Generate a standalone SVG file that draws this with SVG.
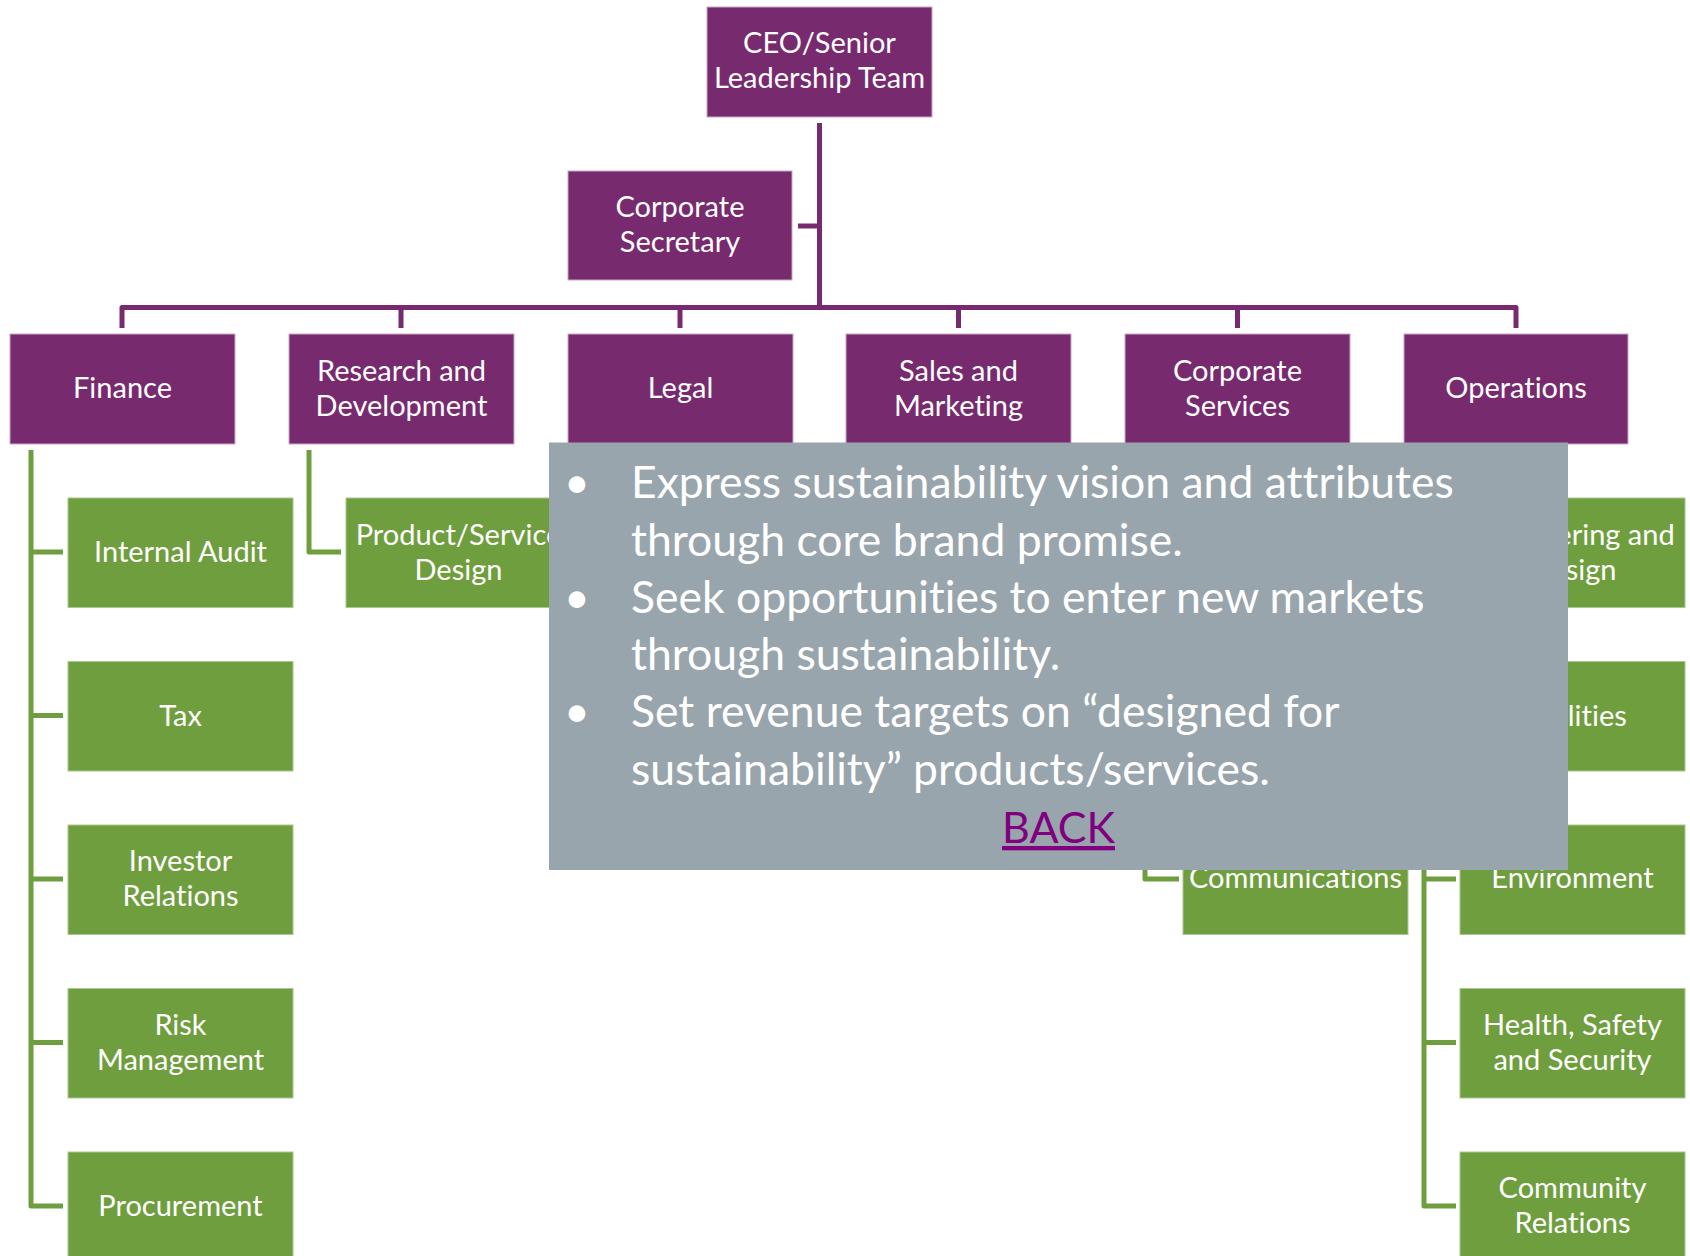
<svg xmlns="http://www.w3.org/2000/svg" width="1690" height="1256" viewBox="0 0 1690 1256">
<style>
text{font-family:Lato,"Liberation Sans",sans-serif;fill:#fff;text-anchor:middle;font-variant-ligatures:none;font-feature-settings:"liga" 0}
.t{font-size:29px}
.p{fill:#782A6F;stroke:#C9A8C4;stroke-width:1}
.g{fill:#6F9E3E;stroke:#A9C78E;stroke-width:1}
.pl{fill:none;stroke:#782A6F;stroke-width:5;stroke-linejoin:round}
.gl{fill:none;stroke:#6F9E3E;stroke-width:5;stroke-linejoin:round}
.o{font-size:44.5px;text-anchor:start}
</style>
<rect width="1690" height="1256" fill="#fff"/>
<g id="connectors">
<path class="pl" d="M819.5,123V307.5M798,226H819.5M122,328V307.5H1516V328M401,307.5V328M680,307.5V328M958.5,307.5V328M1237.5,307.5V328"/>
<path class="gl" d="M31,450V1206H63M31,552H63M31,715.5H63M31,879H63M31,1042.5H63"/>
<path class="gl" d="M309,450V552H341"/>
<path class="gl" d="M1145,450V879H1179"/>
<path class="gl" d="M1424,450V1206H1456M1424,552H1456M1424,715.5H1456M1424,879H1456M1424,1042.5H1456"/>
</g>
<g id="ceo"><rect class="p" x="707" y="7" width="225" height="110"/><text class="t" x="819.5" y="53">CEO/Senior</text><text class="t" x="819.5" y="88">Leadership Team</text></g>
<g id="corporate-secretary"><rect class="p" x="568" y="171" width="224" height="109"/><text class="t" x="680" y="217">Corporate</text><text class="t" x="680" y="252">Secretary</text></g>
<g id="finance"><rect class="p" x="10" y="334" width="225" height="110"/><text class="t" x="122.5" y="398">Finance</text></g>
<g id="research-development"><rect class="p" x="289" y="334" width="225" height="110"/><text class="t" x="401.5" y="381">Research and</text><text class="t" x="401.5" y="416">Development</text></g>
<g id="legal"><rect class="p" x="568" y="334" width="225" height="110"/><text class="t" x="680.5" y="398">Legal</text></g>
<g id="sales-marketing"><rect class="p" x="846" y="334" width="225" height="110"/><text class="t" x="958.5" y="381">Sales and</text><text class="t" x="958.5" y="416">Marketing</text></g>
<g id="corporate-services"><rect class="p" x="1125" y="334" width="225" height="110"/><text class="t" x="1237.5" y="381">Corporate</text><text class="t" x="1237.5" y="416">Services</text></g>
<g id="operations"><rect class="p" x="1404" y="334" width="224" height="110"/><text class="t" x="1516" y="398">Operations</text></g>
<g id="internal-audit"><rect class="g" x="68" y="498" width="225" height="109.5"/><text class="t" x="180.5" y="562">Internal Audit</text></g>
<g id="tax"><rect class="g" x="68" y="661.5" width="225" height="109.5"/><text class="t" x="180.5" y="725.5">Tax</text></g>
<g id="investor-relations"><rect class="g" x="68" y="825" width="225" height="109.5"/><text class="t" x="180.5" y="871">Investor</text><text class="t" x="180.5" y="906">Relations</text></g>
<g id="risk-management"><rect class="g" x="68" y="988.5" width="225" height="109.5"/><text class="t" x="180.5" y="1034.5">Risk</text><text class="t" x="180.5" y="1069.5">Management</text></g>
<g id="procurement"><rect class="g" x="68" y="1152" width="225" height="109.5"/><text class="t" x="180.5" y="1216">Procurement</text></g>
<g id="product-service-design"><rect class="g" x="346" y="498" width="225" height="109.5"/><text class="t" x="458.5" y="544.5">Product/Service</text><text class="t" x="458.5" y="579.5">Design</text></g>
<g id="communications"><rect class="g" x="1183" y="825" width="225" height="109.5"/><text class="t" x="1295.5" y="888">Communications</text></g>
<g id="engineering-design"><rect class="g" x="1460" y="498" width="225" height="109.5"/><text class="t" x="1572.5" y="544.5">Engineering and</text><text class="t" x="1572.5" y="579.5">Design</text></g>
<g id="facilities"><rect class="g" x="1460" y="661.5" width="225" height="109.5"/><text class="t" x="1572.5" y="725.5">Facilities</text></g>
<g id="environment"><rect class="g" x="1460" y="825" width="225" height="109.5"/><text class="t" x="1572.5" y="888">Environment</text></g>
<g id="health-safety-security"><rect class="g" x="1460" y="988.5" width="225" height="109.5"/><text class="t" x="1572.5" y="1034.5">Health, Safety</text><text class="t" x="1572.5" y="1069.5">and Security</text></g>
<g id="community-relations"><rect class="g" x="1460" y="1152" width="225" height="109.5"/><text class="t" x="1572.5" y="1198">Community</text><text class="t" x="1572.5" y="1233">Relations</text></g>
<g id="note">
<rect x="549" y="442.5" width="1019" height="427.5" fill="#99A5AD"/>
<text class="o" x="564" y="498">•</text><text class="o" x="631" y="498">Express sustainability vision and attributes</text>
<text class="o" x="631" y="556">through core brand promise.</text>
<text class="o" x="564" y="613">•</text><text class="o" x="631" y="613">Seek opportunities to enter new markets</text>
<text class="o" x="631" y="670">through sustainability.</text>
<text class="o" x="564" y="727">•</text><text class="o" x="631" y="727">Set revenue targets on “designed for</text>
<text class="o" x="631" y="785">sustainability” products/services.</text>
<text x="1058.5" y="843" style="font-size:43px;fill:#800080;text-decoration:underline">BACK</text>
</g>
</svg>
